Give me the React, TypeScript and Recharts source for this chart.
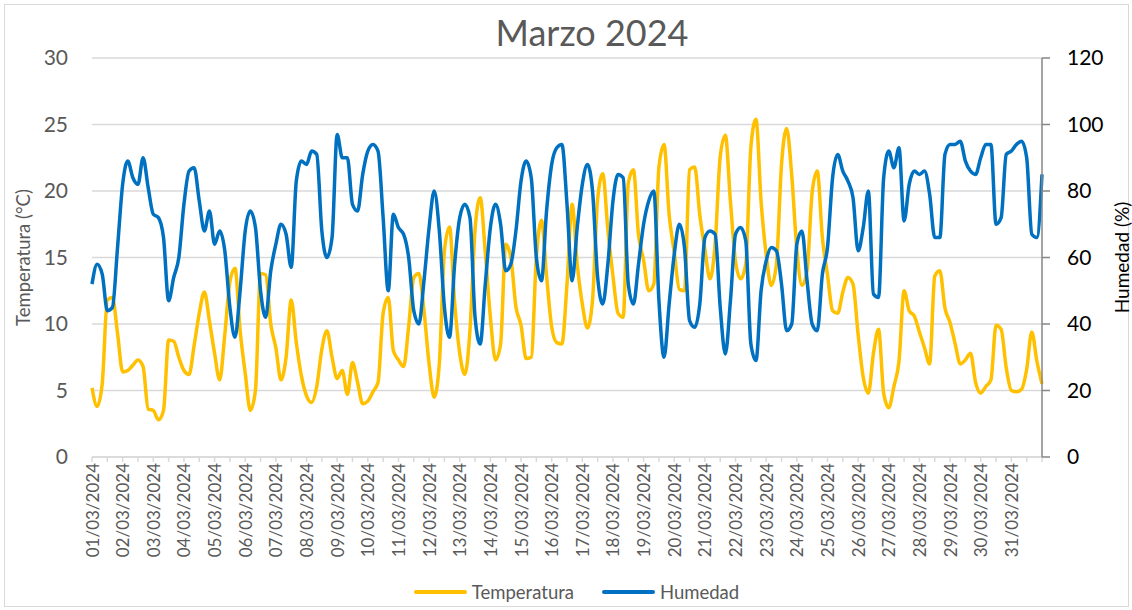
import { LineChart, Line, XAxis, YAxis, CartesianGrid, Legend } from "recharts";

// lecturas cada 4 horas, de 01/03 00:00 a 31/03 20:00, más el cierre del día 31
const horas = [0, 4, 8, 12, 16, 20];

const fechas = [
  "01/03/2024", "02/03/2024", "03/03/2024", "04/03/2024", "05/03/2024",
  "06/03/2024", "07/03/2024", "08/03/2024", "09/03/2024", "10/03/2024",
  "11/03/2024", "12/03/2024", "13/03/2024", "14/03/2024", "15/03/2024",
  "16/03/2024", "17/03/2024", "18/03/2024", "19/03/2024", "20/03/2024",
  "21/03/2024", "22/03/2024", "23/03/2024", "24/03/2024", "25/03/2024",
  "26/03/2024", "27/03/2024", "28/03/2024", "29/03/2024", "30/03/2024",
  "31/03/2024",
];

// °C
const temperatura = [
  5.2, 3.8, 5.5, 11.8, 12.0, 9.3, // 01
  6.4, 6.5, 6.9, 7.3, 6.8, 3.6, // 02
  3.5, 2.8, 3.5, 8.8, 8.7, 7.5, // 03
  6.5, 6.2, 8.4, 10.8, 12.4, 10.2, // 04
  7.8, 5.8, 9.2, 13.2, 14.2, 9.5, // 05
  6.3, 3.5, 5.0, 13.8, 13.7, 10.0, // 06
  8.2, 5.8, 7.5, 11.8, 8.6, 6.1, // 07
  4.6, 4.1, 5.3, 8.1, 9.5, 7.5, // 08
  5.9, 6.5, 4.7, 7.1, 5.6, 4.0, // 09
  4.2, 4.9, 5.6, 10.8, 12.0, 8.0, // 10
  7.3, 6.8, 9.8, 13.5, 13.8, 11.0, // 11
  7.0, 4.5, 7.0, 15.5, 17.3, 11.6, // 12
  7.8, 6.2, 9.5, 17.1, 19.5, 15.4, // 13
  10.5, 7.3, 8.5, 16.0, 15.0, 11.3, // 14
  9.9, 7.4, 7.5, 15.0, 17.8, 13.6, // 15
  9.8, 8.6, 8.5, 13.0, 19.0, 14.5, // 16
  11.5, 9.7, 11.8, 19.4, 21.3, 17.1, // 17
  13.6, 10.8, 10.5, 20.6, 21.6, 16.7, // 18
  14.8, 12.5, 13.0, 21.8, 23.5, 18.2, // 19
  15.4, 12.6, 12.5, 21.6, 21.8, 18.2, // 20
  15.6, 13.4, 16.0, 22.6, 24.2, 19.2, // 21
  14.7, 13.4, 14.5, 23.3, 25.4, 19.2, // 22
  15.2, 12.9, 14.5, 22.0, 24.7, 21.2, // 23
  15.6, 12.9, 14.0, 19.9, 21.5, 16.5, // 24
  13.7, 11.0, 10.8, 12.4, 13.5, 13.0, // 25
  9.2, 6.0, 4.8, 7.8, 9.6, 4.8, // 26
  3.7, 5.3, 7.2, 12.5, 11.0, 10.6, // 27
  9.4, 8.2, 7.0, 13.6, 14.0, 11.2, // 28
  10.1, 8.5, 7.0, 7.3, 7.8, 5.6, // 29
  4.8, 5.3, 5.8, 9.9, 9.6, 6.7, // 30
  5.0, 4.9, 5.1, 6.6, 9.4, 7.2, // 31
  5.5,
];

// %
const humedad = [
  52, 58, 55, 44, 45, 63, // 01
  82, 89, 84, 82, 90, 81, // 02
  73, 72, 66, 47, 54, 60, // 03
  76, 86, 87, 77, 68, 74, // 04
  64, 68, 62, 45, 36, 50, // 05
  68, 74, 69, 50, 42, 56, // 06
  64, 70, 67, 57, 83, 89, // 07
  88, 92, 91, 68, 60, 66, // 08
  97, 90, 90, 76, 74, 85, // 09
  92, 94, 92, 72, 50, 73, // 10
  69, 67, 60, 44, 40, 53, // 11
  69, 80, 68, 45, 36, 58, // 12
  72, 76, 72, 42, 34, 52, // 13
  69, 76, 70, 56, 58, 68, // 14
  83, 89, 84, 60, 53, 74, // 15
  88, 93, 94, 76, 53, 69, // 16
  82, 88, 80, 54, 46, 58, // 17
  77, 85, 84, 52, 46, 58, // 18
  70, 77, 80, 47, 30, 46, // 19
  61, 70, 63, 41, 39, 46, // 20
  66, 68, 67, 45, 31, 47, // 21
  67, 69, 65, 34, 29, 50, // 22
  59, 63, 62, 52, 38, 40, // 23
  64, 68, 53, 40, 38, 55, // 24
  63, 84, 91, 86, 83, 78, // 25
  62, 69, 80, 49, 48, 84, // 26
  92, 87, 93, 71, 82, 86, // 27
  85, 86, 79, 66, 66, 91, // 28
  94, 94, 95, 89, 86, 85, // 29
  90, 94, 94, 70, 72, 91, // 30
  92, 94, 95, 90, 67, 66, // 31
  85,
];

const tempTicks = [0, 5, 10, 15, 20, 25, 30];
const humTicks = [0, 20, 40, 60, 80, 100, 120];

const data = temperatura.map((t, i) => ({
  dia: i / horas.length,
  temperatura: t,
  humedad: humedad[i],
}));

// marcas cada medio día, etiqueta sólo al inicio de cada día
const dayTicks = Array.from({ length: fechas.length * 2 + 1 }, (_, i) => i / 2);

const FONT = "Lato, 'Open Sans', sans-serif";
const GRAY = "#595959";

function DateTick(props: any) {
  const { x, y, payload } = props;
  const v = payload.value;
  if (!Number.isInteger(v) || v >= fechas.length) return <g />;
  return (
    <text
      x={x}
      y={y}
      transform={`rotate(-90, ${x}, ${y})`}
      textAnchor="end"
      dominantBaseline="central"
      fill={GRAY}
      fontSize={17}
      fontFamily={FONT}
    >
      {fechas[v]}
    </text>
  );
}

function renderLegend() {
  const item = (color: string, text: string) => (
    <span style={{ display: "inline-flex", alignItems: "center", margin: "0 14px" }}>
      <span style={{ display: "inline-block", width: 53, height: 4, background: color, borderRadius: 2, marginRight: 5 }} />
      <span style={{ color: GRAY, fontSize: 18.5, fontFamily: FONT }}>{text}</span>
    </span>
  );
  return (
    <div style={{ height: 30, display: "flex", justifyContent: "center", alignItems: "center", paddingLeft: 21 }}>
      {item("#FFC000", "Temperatura")}
      {item("#0070C0", "Humedad")}
    </div>
  );
}

export default function App() {
  return (
    <div style={{ position: "absolute", left: 0, top: 0, width: 1132, height: 610, background: "#fff" }}>
      <div
        style={{
          position: "absolute",
          left: 4,
          top: 4,
          width: 1123,
          height: 601,
          border: "1px solid #d9d9d9",
        }}
      />
      <div
        style={{
          position: "absolute",
          left: 392,
          width: 400,
          top: 13,
          textAlign: "center",
          fontFamily: FONT,
          fontSize: 36,
          lineHeight: "38px",
          color: GRAY,
        }}
      >
        Marzo 2024
      </div>
      <LineChart
        width={1132}
        height={610}
        data={data}
        margin={{ top: 58, right: 0, bottom: 3, left: 0 }}
      >
        <CartesianGrid vertical={false} stroke="#d9d9d9" strokeWidth={1.5} yAxisId="temp" />
        <XAxis
          dataKey="dia"
          type="number"
          domain={[0, 31]}
          ticks={dayTicks}
          interval={0}
          height={120}
          axisLine={{ stroke: "#d9d9d9", strokeWidth: 1.5 }}
          tickLine={{ stroke: "#d9d9d9", strokeWidth: 1.5 }}
          tickSize={5}
          tickMargin={1}
          tick={<DateTick />}
        />
        <YAxis
          yAxisId="temp"
          domain={[0, 30]}
          ticks={tempTicks}
          width={92}
          axisLine={false}
          tickLine={false}
          tickSize={6}
          tickMargin={18}
          tick={{ fill: GRAY, fontSize: 21, fontFamily: FONT }}
          label={({ viewBox }: any) => (
            <text
              x={23}
              y={viewBox.y + viewBox.height / 2}
              transform={`rotate(-90, 23, ${viewBox.y + viewBox.height / 2})`}
              textAnchor="middle"
              dominantBaseline="central"
              fill={GRAY}
              fontSize={18.5}
              fontFamily={FONT}
            >
              Temperatura (°C)
            </text>
          )}
        />
        <YAxis
          yAxisId="hum"
          orientation="right"
          domain={[0, 120]}
          ticks={humTicks}
          width={90}
          axisLine={{ stroke: "#868686", strokeWidth: 1.5 }}
          tickLine={{ stroke: "#868686", strokeWidth: 1.5 }}
          tickSize={8}
          tickMargin={17}
          tick={{ fill: "#000", fontSize: 21, fontFamily: FONT }}
          label={({ viewBox }: any) => (
            <text
              x={1121}
              y={viewBox.y + viewBox.height / 2}
              transform={`rotate(-90, 1121, ${viewBox.y + viewBox.height / 2})`}
              textAnchor="middle"
              dominantBaseline="central"
              fill="#000"
              fontSize={19}
              fontFamily={FONT}
            >
              Humedad (%)
            </text>
          )}
        />
        <Legend verticalAlign="bottom" height={30} content={renderLegend} />
        <Line
          yAxisId="temp"
          type="monotone"
          dataKey="temperatura"
          name="Temperatura"
          stroke="#FFC000"
          strokeWidth={3.5}
          dot={false}
          isAnimationActive={false}
        />
        <Line
          yAxisId="hum"
          type="monotone"
          dataKey="humedad"
          name="Humedad"
          stroke="#0070C0"
          strokeWidth={3.5}
          dot={false}
          isAnimationActive={false}
        />
      </LineChart>
    </div>
  );
}
